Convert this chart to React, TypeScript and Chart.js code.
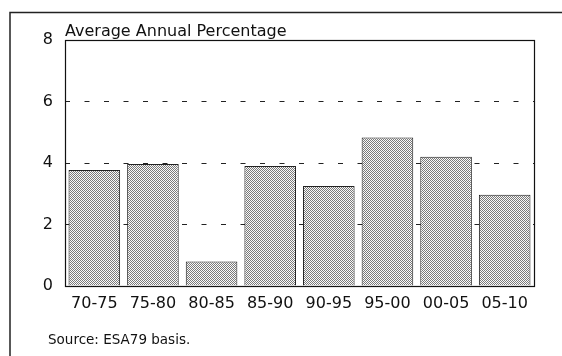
import React, { useEffect, useRef } from "react";
import { Chart, registerables } from "chart.js";

Chart.register(...registerables);

const categories = ["70-75", "75-80", "80-85", "85-90", "90-95", "95-00", "00-05", "05-10"];
const values = [3.77, 3.97, 0.8, 3.9, 3.25, 4.83, 4.2, 2.97];
const yTicks = [0, 2, 4, 6, 8];
const titleText = "Average Annual Percentage";
const sourceText = "Source: ESA79 basis.";

const FONT = "'DejaVu Sans', sans-serif";

function makePattern(): CanvasPattern | string {
  const c = document.createElement("canvas");
  c.width = 2;
  c.height = 2;
  const g = c.getContext("2d");
  if (!g) return "#b8b8b8";
  g.fillStyle = "#fafafa";
  g.fillRect(0, 0, 2, 2);
  g.fillStyle = "#7a7a7a";
  g.fillRect(0, 0, 1, 1);
  g.fillRect(1, 1, 1, 1);
  const p = g.createPattern(c, "repeat");
  return p || "#b8b8b8";
}

const decorPlugin = {
  id: "decor",
  beforeDraw(chart: any) {
    const ctx = chart.ctx;
    ctx.save();
    ctx.fillStyle = "#ffffff";
    ctx.fillRect(0, 0, chart.width, chart.height);
    ctx.strokeStyle = "#222";
    ctx.lineWidth = 1.5;
    ctx.beginPath();
    ctx.moveTo(10, 356);
    ctx.lineTo(10, 12.5);
    ctx.lineTo(562, 12.5);
    ctx.stroke();
    ctx.restore();
  },
  afterDatasetsDraw(chart: any) {
    const ctx = chart.ctx;
    const a = chart.chartArea;
    ctx.save();
    ctx.strokeStyle = "#111";
    ctx.lineWidth = 1.2;
    ctx.strokeRect(a.left + 0.5, a.top + 0.5, a.right - a.left, a.bottom - a.top);
    ctx.fillStyle = "#111";
    ctx.font = `16px ${FONT}`;
    ctx.textAlign = "left";
    ctx.textBaseline = "alphabetic";
    ctx.fillText(titleText, a.left, a.top - 4);
    ctx.font = `13.5px ${FONT}`;
    ctx.fillText(sourceText, 48, 344);
    ctx.restore();
  },
};

export default function App() {
  const ref = useRef<HTMLCanvasElement>(null);
  useEffect(() => {
    document.body.style.margin = "0";
    if (!ref.current) return;
    const pattern = makePattern();
    const chart = new Chart(ref.current, {
      type: "bar",
      data: {
        labels: categories,
        datasets: [
          {
            data: values,
            backgroundColor: pattern as any,
            borderColor: "#222",
            borderWidth: 1,
            barPercentage: 0.88,
            categoryPercentage: 1,
          },
        ],
      },
      options: {
        animation: false,
        responsive: false,
        maintainAspectRatio: false,
        layout: { padding: { left: 10, right: 28, top: 40, bottom: 40 } },
        plugins: { legend: { display: false }, tooltip: { enabled: false }, title: { display: false } },
        scales: {
          x: {
            grid: { display: false },
            border: { display: false },
            ticks: { color: "#111", font: { family: FONT, size: 16 }, padding: 0, maxRotation: 0 },
            afterFit(scale: any) {
              scale.height = 30;
            },
          },
          y: {
            min: 0,
            max: 8,
            afterBuildTicks(scale: any) {
              scale.ticks = yTicks.map((v) => ({ value: v }));
            },
            grid: {
              color: (c: any) => (c.tick && (c.tick.value === 0 || c.tick.value === 8) ? "rgba(0,0,0,0)" : "#222"),
              lineWidth: 1,
              drawTicks: false,
            },
            border: { display: false, dash: [5, 14.5] },
            ticks: { color: "#111", font: { family: FONT, size: 16 }, padding: 12 },
            afterFit(scale: any) {
              scale.width = 55;
            },
          },
        },
      },
      plugins: [decorPlugin],
    });
    return () => chart.destroy();
  }, []);
  return (
    <div style={{ position: "fixed", left: 0, top: 0, width: 562, height: 356 }}>
      <canvas ref={ref} width={562} height={356} style={{ display: "block" }} />
    </div>
  );
}
